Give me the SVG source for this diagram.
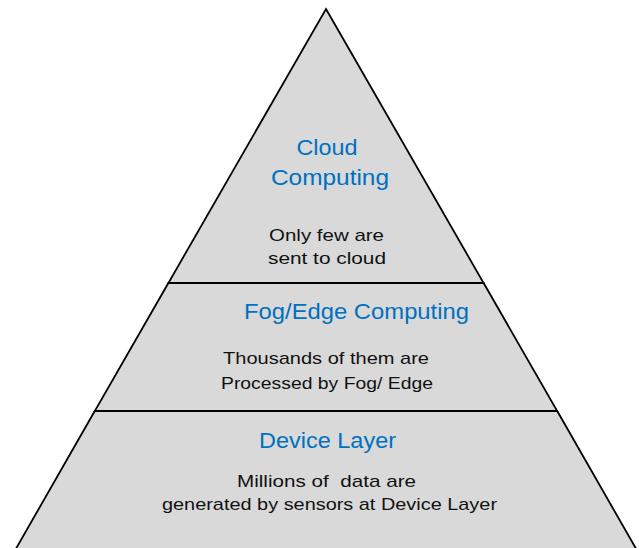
<svg xmlns="http://www.w3.org/2000/svg" width="639" height="548" viewBox="0 0 639 548">
  <style>
    .layer { fill: #d9d9d9; stroke: #000; stroke-width: 1.8; stroke-linejoin: miter; }
    .title { font-family: "Liberation Sans", Arial, sans-serif; font-size: 22px; fill: #0070c0; text-anchor: middle; }
    .body { font-family: "Liberation Sans", Arial, sans-serif; font-size: 17px; fill: #111; text-anchor: middle; }
  </style>
  <rect width="639" height="548" fill="#fff"/>

  <!-- Top tier: cloud -->
  <g id="cloud">
    <polygon class="layer" points="326,9 483.6,283 168.4,283"/>
    <text class="title" x="327" y="155" textLength="61" lengthAdjust="spacingAndGlyphs">Cloud</text>
    <text class="title" x="330" y="185" textLength="118" lengthAdjust="spacingAndGlyphs">Computing</text>
    <text class="body" x="326.5" y="241" textLength="115" lengthAdjust="spacingAndGlyphs">Only few are</text>
    <text class="body" x="327" y="264" textLength="118" lengthAdjust="spacingAndGlyphs">sent to cloud</text>
  </g>

  <!-- Middle tier: fog / edge -->
  <g id="fog-edge">
    <polygon class="layer" points="168.4,283 483.6,283 557.2,411 94.8,411"/>
    <text class="title" x="356.5" y="319" textLength="225" lengthAdjust="spacingAndGlyphs">Fog/Edge Computing</text>
    <text class="body" x="326" y="364" textLength="206" lengthAdjust="spacingAndGlyphs">Thousands of them are</text>
    <text class="body" x="327" y="389" textLength="212" lengthAdjust="spacingAndGlyphs">Processed by Fog/ Edge</text>
  </g>

  <!-- Bottom tier: devices -->
  <g id="device">
    <polygon class="layer" points="94.8,411 557.2,411 636.5,549.5 15.5,549.5"/>
    <text class="title" x="327.5" y="448" textLength="137" lengthAdjust="spacingAndGlyphs">Device Layer</text>
    <text class="body" x="326.5" y="487" textLength="179" lengthAdjust="spacingAndGlyphs" xml:space="preserve">Millions of  data are</text>
    <text class="body" x="329.5" y="510" textLength="335" lengthAdjust="spacingAndGlyphs">generated by sensors at Device Layer</text>
  </g>

  <g id="connectors"/>
</svg>
